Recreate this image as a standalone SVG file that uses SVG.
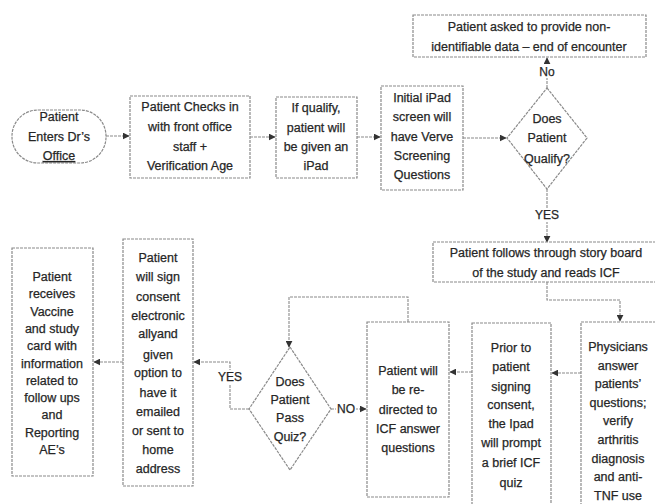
<svg xmlns="http://www.w3.org/2000/svg" width="655" height="504" viewBox="0 0 655 504">
<defs>
<style>
.box{fill:#fff;stroke:#8a8a8a;stroke-width:1.2;stroke-dasharray:3 1}
.t{font-family:"Liberation Sans",Arial,sans-serif;font-size:12.5px;fill:#262626;stroke:#262626;stroke-width:0.25;text-anchor:middle}
.c{fill:none;stroke:#8a8a8a;stroke-width:1.1;stroke-dasharray:3 1}
.lbl{font-family:"Liberation Sans",Arial,sans-serif;font-size:12px;fill:#262626;stroke:#262626;stroke-width:0.25;text-anchor:middle}
</style>
<marker id="ah" viewBox="0 0 10 10" refX="9" refY="5" markerWidth="7" markerHeight="7" orient="auto" markerUnits="userSpaceOnUse">
<path d="M0,0 L10,5 L0,10 z" fill="#333"/>
</marker>
</defs>
<rect width="655" height="504" fill="#fff"/>

<g id="connectors">
<path class="c" d="M106,136 H129" marker-end="url(#ah)"/>
<path class="c" d="M250,137 H275" marker-end="url(#ah)"/>
<path class="c" d="M357,137 H380" marker-end="url(#ah)"/>
<path class="c" d="M463,138 H506" marker-end="url(#ah)"/>
<path class="c" d="M547,88 V58" marker-end="url(#ah)"/>
<path class="c" d="M547,189 V242" marker-end="url(#ah)"/>
<path class="c" d="M547,282 V300 H620 V321" marker-end="url(#ah)"/>
<path class="c" d="M581,373 H552" marker-end="url(#ah)"/>
<path class="c" d="M472,372 H450" marker-end="url(#ah)"/>
<path class="c" d="M408,322 V297 H289 V347" marker-end="url(#ah)"/>
<path class="c" d="M331,409 H366" marker-end="url(#ah)"/>
<path class="c" d="M249,409 H230 V362 H194" marker-end="url(#ah)"/>
<path class="c" d="M123,362 H94" marker-end="url(#ah)"/>
<rect x="537" y="64" width="20" height="14" fill="#fff"/>
<text class="lbl" x="547" y="76">No</text>
<rect x="533" y="208" width="28" height="14" fill="#fff"/>
<text class="lbl" x="547" y="219">YES</text>
<rect x="336" y="402" width="20" height="14" fill="#fff"/>
<text class="lbl" x="346" y="413">NO</text>
<rect x="217" y="370" width="27" height="14" fill="#fff"/>
<text class="lbl" x="230" y="381">YES</text>
</g>

<g id="enters">
<rect class="box" x="12" y="110" width="94" height="53" rx="26" ry="26"/>
<text class="t" x="59" y="121">Patient</text>
<text class="t" x="59" y="141">Enters Dr’s</text>
<text class="t" x="59" y="160" text-decoration="underline">Office</text>
</g>

<g id="checkin">
<rect class="box" x="130" y="96" width="120" height="82"/>
<text class="t" x="190" y="111">Patient Checks in</text>
<text class="t" x="190" y="131">with front office</text>
<text class="t" x="190" y="151">staff +</text>
<text class="t" x="190" y="170">Verification  Age</text>
</g>

<g id="qualify-ipad">
<rect class="box" x="276" y="97" width="81" height="81"/>
<text class="t" x="316" y="112">If qualify,</text>
<text class="t" x="316" y="132">patient will</text>
<text class="t" x="316" y="151">be given an</text>
<text class="t" x="316" y="170">iPad</text>
</g>

<g id="initial">
<rect class="box" x="381" y="86" width="82" height="104"/>
<text class="t" x="422" y="102">Initial iPad</text>
<text class="t" x="422" y="121">screen will</text>
<text class="t" x="422" y="141">have Verve</text>
<text class="t" x="422" y="160">Screening</text>
<text class="t" x="422" y="179">Questions</text>
</g>

<g id="end">
<rect class="box" x="413" y="15" width="233" height="42"/>
<text class="t" x="529" y="31">Patient asked to provide non-</text>
<text class="t" x="529" y="51">identifiable data – end of encounter</text>
</g>

<g id="does-qualify">
<polygon class="box" points="547,88 587,138 547,189 507,138"/>
<text class="t" x="547" y="123">Does</text>
<text class="t" x="547" y="142">Patient</text>
<text class="t" x="547" y="163">Qualify?</text>
</g>

<g id="storyboard">
<rect class="box" x="433" y="242" width="230" height="40"/>
<text class="t" x="546" y="257">Patient follows through story board</text>
<text class="t" x="546" y="277">of the study and reads ICF</text>
</g>

<g id="physicians">
<rect class="box" x="581" y="322" width="80" height="190"/>
<text class="t" x="618" y="351">Physicians</text>
<text class="t" x="618" y="369.6">answer</text>
<text class="t" x="618" y="388.2">patients’</text>
<text class="t" x="618" y="406.8">questions;</text>
<text class="t" x="618" y="425.4">verify</text>
<text class="t" x="618" y="444">arthritis</text>
<text class="t" x="618" y="462.6">diagnosis</text>
<text class="t" x="618" y="481.2">and anti-</text>
<text class="t" x="618" y="499.8">TNF use</text>
</g>

<g id="prior">
<rect class="box" x="472" y="323" width="79" height="190"/>
<text class="t" x="511" y="352">Prior to</text>
<text class="t" x="511" y="371">patient</text>
<text class="t" x="511" y="391">signing</text>
<text class="t" x="511" y="409">consent,</text>
<text class="t" x="511" y="428">the Ipad</text>
<text class="t" x="511" y="447">will prompt</text>
<text class="t" x="511" y="467">a brief ICF</text>
<text class="t" x="511" y="487">quiz</text>
</g>

<g id="redirect">
<rect class="box" x="367" y="322" width="82" height="175"/>
<text class="t" x="408" y="375">Patient will</text>
<text class="t" x="408" y="394">be re-</text>
<text class="t" x="408" y="414">directed to</text>
<text class="t" x="408" y="433">ICF answer</text>
<text class="t" x="408" y="452">questions</text>
</g>

<g id="pass-quiz">
<polygon class="box" points="290,347 331,409 290,470 249,409"/>
<text class="t" x="290" y="386">Does</text>
<text class="t" x="290" y="404">Patient</text>
<text class="t" x="290" y="422">Pass</text>
<text class="t" x="290" y="441">Quiz?</text>
</g>

<g id="consent">
<rect class="box" x="123" y="239" width="70" height="247"/>
<text class="t" x="158" y="262">Patient</text>
<text class="t" x="158" y="281">will sign</text>
<text class="t" x="158" y="301">consent</text>
<text class="t" x="158" y="320">electronic</text>
<text class="t" x="158" y="338">allyand</text>
<text class="t" x="158" y="359">given</text>
<text class="t" x="158" y="377">option to</text>
<text class="t" x="158" y="397">have it</text>
<text class="t" x="158" y="416">emailed</text>
<text class="t" x="158" y="435">or sent to</text>
<text class="t" x="158" y="454">home</text>
<text class="t" x="158" y="473">address</text>
</g>

<g id="receives">
<rect class="box" x="12" y="248" width="81" height="228"/>
<text class="t" x="52" y="281">Patient</text>
<text class="t" x="52" y="298.3">receives</text>
<text class="t" x="52" y="315.6">Vaccine</text>
<text class="t" x="52" y="332.9">and study</text>
<text class="t" x="52" y="350.2">card with</text>
<text class="t" x="52" y="367.5">information</text>
<text class="t" x="52" y="384.8">related to</text>
<text class="t" x="52" y="402.1">follow ups</text>
<text class="t" x="52" y="419.4">and</text>
<text class="t" x="52" y="436.7">Reporting</text>
<text class="t" x="52" y="454">AE’s</text>
</g>
</svg>
